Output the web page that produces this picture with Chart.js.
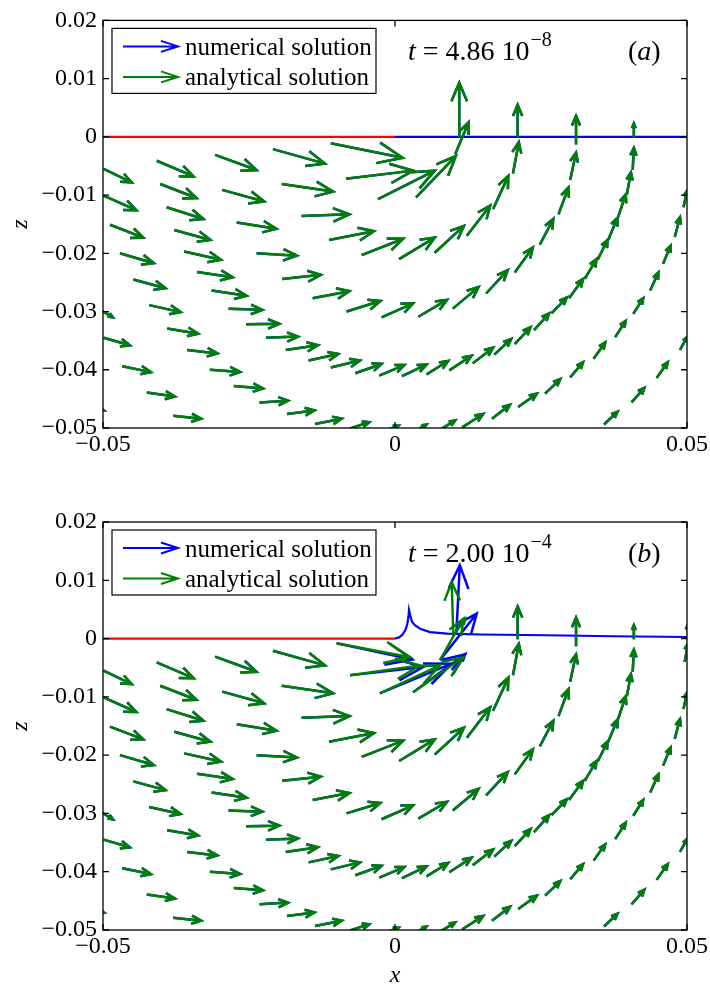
<!DOCTYPE html>
<html>
<head>
<meta charset="utf-8">
<script src="https://cdn.jsdelivr.net/npm/chart.js@4.4.0/dist/chart.umd.min.js"></script>
<style>
  body { margin: 0; background: #fff; }
  .panel { position: absolute; left: 0; width: 710px; height: 493px; }
</style>
</head>
<body>
<div class="panel" style="top:0"><canvas id="panelA" width="710" height="493"></canvas></div>
<div class="panel" style="top:493px"><canvas id="panelB" width="710" height="493"></canvas></div>
<script>
// ticks
var xTicks = [-0.05, 0, 0.05];
var xTickLabels = ['\u22120.05', '0', '0.05'];
var zTicks = [0.02, 0.01, 0, -0.01, -0.02, -0.03, -0.04, -0.05];
var zTickLabels = ['0.02', '0.01', '0', '\u22120.01', '\u22120.02', '\u22120.03', '\u22120.04', '\u22120.05'];

// z = 0 boundary: wall (x < 0) and free surface (x > 0)
var wallX = [-0.05, 0];
var wallZ = [0, 0];
var surfAX = [0, 0.05];
var surfAZ = [0, 0];
var surfBX = [0, 0.0007, 0.0013, 0.0018, 0.0021, 0.0023, 0.0024, 0.0026, 0.0029, 0.0034, 0.0043, 0.0060, 0.0089, 0.0146, 0.026, 0.0374, 0.05];
var surfBZ = [0, 0.0002, 0.0007, 0.0015, 0.0025, 0.0037, 0.0049, 0.0040, 0.0029, 0.0023, 0.0017, 0.0011, 0.00086, 0.0007, 0.00057, 0.0004, 0.00027];

// velocity arrows, one row per arrow: [x tail, z tail, x head, z head], in 1e-3 units
var ring1 = [
  [11.0, -0.1, 11.0, 9.3], [10.3, -3.0, 12.6, 2.5], [3.6, -10.4, 10.4, -3.3],
  [-2.9, -10.7, 6.8, -5.8], [-8.4, -7.2, 3.1, -5.8], [-11.0, -1.1, 1.3, -3.6]
];
var ring2 = [
  [21.0, -0.1, 21.0, 5.5], [20.2, -6.3, 21.2, -0.9], [16.8, -12.4, 19.4, -6.7],
  [12.3, -17.0, 16.3, -11.8], [6.8, -19.9, 11.8, -15.3], [0.7, -21.0, 6.8, -17.3],
  [-5.7, -20.3, 1.4, -17.5], [-11.3, -17.7, -3.6, -16.2], [-16.0, -13.6, -7.8, -13.3],
  [-19.4, -8.1, -10.6, -9.4], [-20.9, -2.1, -12.0, -4.6]
];
var ring3 = [
  [31.0, -1.3, 31.0, 3.6], [30.0, -7.4, 31.0, -2.7], [28.0, -13.3, 29.7, -8.7],
  [24.8, -18.5, 27.1, -14.1], [20.5, -23.3, 23.6, -19.0], [15.6, -26.9, 19.3, -22.9],
  [9.9, -29.5, 14.3, -25.8], [4.0, -30.9, 8.9, -28.0], [-2.3, -31.0, 3.1, -28.6],
  [-8.3, -30.0, -2.5, -28.2], [-14.1, -27.7, -7.8, -26.5], [-19.3, -24.4, -12.7, -23.7],
  [-23.7, -20.0, -16.8, -20.4], [-27.1, -14.7, -20.3, -15.8], [-29.6, -9.1, -22.4, -11.1],
  [-30.8, -3.1, -23.7, -5.7]
];
var ring4 = [
  [40.9, -0.1, 40.9, 2.3], [40.7, -5.7, 40.9, -1.9], [39.7, -9.9, 40.4, -6.1],
  [38.2, -13.8, 39.5, -9.9], [36.5, -17.7, 38.1, -13.9], [34.7, -21.1, 36.4, -17.7],
  [32.5, -24.4, 34.5, -21.0], [29.8, -27.7, 32.2, -24.4], [26.8, -30.3, 29.4, -27.6],
  [23.8, -33.2, 26.4, -30.3], [20.5, -35.6, 23.2, -32.7], [17.0, -37.4, 19.9, -34.7],
  [13.3, -38.9, 16.8, -36.2], [9.3, -40.1, 13.1, -37.6], [5.4, -40.8, 9.1, -38.5],
  [1.2, -41.1, 5.4, -39.1], [-2.7, -41.0, 1.6, -39.2], [-6.8, -40.6, -2.3, -39.0],
  [-11.0, -39.6, -6.0, -38.4], [-14.8, -38.4, -9.7, -37.3], [-18.7, -36.6, -13.2, -35.8],
  [-22.1, -34.5, -16.6, -34.3], [-25.5, -32.2, -19.8, -32.1], [-28.5, -29.5, -22.7, -29.7],
  [-31.4, -26.4, -25.4, -27.3], [-33.9, -23.2, -27.8, -24.1], [-36.1, -19.7, -29.8, -21.1],
  [-37.8, -16.0, -31.6, -17.7], [-39.1, -12.1, -32.8, -14.1], [-40.2, -8.1, -34.0, -10.5],
  [-40.8, -4.1, -34.5, -6.8]
];
var ring5 = [
  [49.4, -12.1, 50.0, -9.3], [47.9, -17.2, 48.8, -13.8], [45.9, -21.8, 47.2, -18.7],
  [43.7, -26.4, 45.1, -23.3], [40.8, -30.4, 42.5, -27.7], [37.7, -34.4, 39.5, -31.6],
  [34.0, -38.1, 36.0, -35.3], [30.0, -41.3, 32.2, -38.7], [25.7, -44.1, 28.3, -41.6],
  [21.1, -46.4, 24.3, -44.1], [16.6, -48.4, 19.7, -46.0], [11.5, -49.9, 15.1, -47.6],
  [7.7, -50.3, 10.3, -48.7], [3.3, -50.6, 5.4, -49.4], [-1.9, -50.6, 0.6, -49.6],
  [-7.8, -50.1, -4.4, -49.0], [-13.7, -49.3, -9.1, -48.4], [-18.5, -47.6, -13.8, -47.0],
  [-23.2, -45.6, -18.3, -45.3], [-27.6, -42.8, -22.6, -43.2], [-31.7, -40.0, -26.5, -40.4],
  [-35.6, -36.6, -30.4, -37.2], [-39.0, -32.9, -33.7, -33.8], [-42.1, -28.9, -36.7, -30.1],
  [-44.8, -24.5, -39.3, -26.0], [-47.1, -20.0, -41.3, -21.7], [-48.8, -15.1, -43.1, -17.3],
  [-49.9, -10.1, -44.3, -12.6], [-49.9, -5.5, -45.1, -7.8]
];
var ring6 = [
  [48.8, -36.6, 50.0, -34.4], [44.8, -41.4, 46.7, -38.7], [40.5, -45.6, 42.7, -43.1],
  [35.8, -49.4, 38.1, -47.2], [-38.0, -47.9, -33.2, -48.4], [-42.5, -43.9, -37.7, -44.6],
  [-46.7, -39.4, -41.8, -40.4], [-49.9, -34.5, -45.4, -35.8], [-50.5, -29.7, -48.3, -31.0],
  [-51.5, -46.5, -49.8, -47.0]
];

// panel (b): arrows near the edge of the wall, where the two solutions part
var tipAnalyticalB = [
  [10.0, 0.3, 9.7, 9.7], [10.3, 0.9, 12.0, 3.4], [7.7, -3.7, 11.7, 3.4],
  [3.1, -9.2, 11.7, -3.2], [-2.6, -9.4, 7.7, -4.6], [-7.7, -6.3, 4.3, -4.6],
  [-10.0, -0.8, 2.6, -3.2]
];
var tipNumericalB = [
  [10.5, 0.8, 11.1, 12.6], [7.7, -3.7, 14.0, 4.3], [9.7, -5.4, 12.0, -2.7],
  [3.1, -9.2, 12.0, -2.7], [-2.6, -9.4, 9.7, -4.3], [-7.7, -6.3, 4.8, -4.9],
  [-10.0, -0.8, 3.0, -3.6]
];
var edgeB = [[50.2, -0.4, 50.2, 2.6], [49.6, -4.0, 50.2, -0.8]];

var analyticalA = [].concat(ring1, ring2, ring3, ring4, ring5, ring6);
var numericalA = analyticalA;   // the two solutions coincide at this early time
var analyticalB = [].concat(tipAnalyticalB, ring2, ring3, ring4, edgeB, ring5, ring6);
var numericalB = [].concat(tipNumericalB, ring2, ring3, ring4, edgeB, ring5, ring6);

function toArrows(rows) {
  return rows.map(function (r) {
    return { x: r[0] * 1e-3, y: r[1] * 1e-3, x2: r[2] * 1e-3, y2: r[3] * 1e-3 };
  });
}
function toPoints(xs, zs) {
  return xs.map(function (x, i) { return { x: x, y: zs[i] }; });
}

var SERIF = '"Liberation Serif", serif';
var BLUE = 'rgb(0,0,255)', GREEN = 'rgb(0,128,0)', RED = 'rgb(255,0,0)';

// quiver style arrow: shaft plus two barbs
function drawArrow(ctx, x1, y1, x2, y2) {
  var dx = x2 - x1, dy = y2 - y1, a = 0.34, b = 0.42;
  ctx.beginPath();
  ctx.moveTo(x1, y1);
  ctx.lineTo(x2, y2);
  ctx.moveTo(x2 - a * (dx + b * dy), y2 - a * (dy - b * dx));
  ctx.lineTo(x2, y2);
  ctx.lineTo(x2 - a * (dx - b * dy), y2 - a * (dy + b * dx));
  ctx.stroke();
}

var quiverPlugin = {
  id: 'quiver',
  afterDatasetsDraw: function (chart) {
    var ctx = chart.ctx, xs = chart.scales.x, ys = chart.scales.y, area = chart.chartArea;
    ctx.save();
    ctx.beginPath();
    ctx.rect(area.left, area.top, area.right - area.left, area.bottom - area.top);
    ctx.clip();
    ctx.lineJoin = 'miter';
    chart.data.datasets.forEach(function (ds) {
      if (!ds.quiver) return;
      ctx.strokeStyle = ds.borderColor;
      ctx.lineWidth = ds.borderWidth;
      ds.data.forEach(function (p) {
        drawArrow(ctx, xs.getPixelForValue(p.x), ys.getPixelForValue(p.y),
                  xs.getPixelForValue(p.x2), ys.getPixelForValue(p.y2));
      });
    });
    ctx.restore();
  }
};

// box round the axes with inward tick marks
var framePlugin = {
  id: 'frame',
  afterDraw: function (chart) {
    var ctx = chart.ctx, a = chart.chartArea, xs = chart.scales.x, ys = chart.scales.y;
    ctx.save();
    ctx.strokeStyle = '#000';
    ctx.lineWidth = 1.3;
    ctx.strokeRect(a.left, a.top, a.right - a.left, a.bottom - a.top);
    ctx.beginPath();
    xs.ticks.forEach(function (t) {
      var px = xs.getPixelForValue(t.value);
      ctx.moveTo(px, a.bottom); ctx.lineTo(px, a.bottom - 6);
      ctx.moveTo(px, a.top); ctx.lineTo(px, a.top + 6);
    });
    ys.ticks.forEach(function (t) {
      var py = ys.getPixelForValue(t.value);
      ctx.moveTo(a.left, py); ctx.lineTo(a.left + 6, py);
      ctx.moveTo(a.right, py); ctx.lineTo(a.right - 6, py);
    });
    ctx.stroke();
    ctx.restore();
  }
};

// legend box, time stamp and panel letter
var notePlugin = {
  id: 'note',
  afterDraw: function (chart) {
    var o = chart.options.plugins.note, ctx = chart.ctx, a = chart.chartArea;
    ctx.save();
    // legend
    var bx = a.left + 9, by = a.top + 8;
    ctx.fillStyle = '#fff';
    ctx.fillRect(bx, by, 264, 65);
    ctx.strokeStyle = '#000';
    ctx.lineWidth = 1.2;
    ctx.strokeRect(bx, by, 264, 65);
    var entries = chart.data.datasets.filter(function (d) { return d.quiver; });
    entries.forEach(function (d, i) {
      var y = by + 18 + i * 30.5;
      ctx.strokeStyle = d.borderColor;
      ctx.lineWidth = 2;
      ctx.beginPath();
      ctx.moveTo(bx + 11, y); ctx.lineTo(bx + 66, y);
      ctx.moveTo(bx + 49, y - 5.5); ctx.lineTo(bx + 66, y); ctx.lineTo(bx + 49, y + 5.5);
      ctx.stroke();
      ctx.fillStyle = '#000';
      ctx.font = '25px ' + SERIF;
      ctx.textBaseline = 'alphabetic';
      ctx.fillText(d.label, bx + 73, y + 8.5);
    });
    // time stamp
    var tx = a.left + 305, ty = a.top + 40;
    ctx.fillStyle = '#000';
    ctx.font = 'italic 28px ' + SERIF;
    ctx.fillText('t', tx, ty);
    tx += ctx.measureText('t').width;
    ctx.font = '28px ' + SERIF;
    var main = ' = ' + o.time + ' 10';
    ctx.fillText(main, tx, ty);
    tx += ctx.measureText(main).width;
    ctx.font = '20px ' + SERIF;
    ctx.fillText(o.exponent, tx + 1, ty - 14);
    // panel letter
    var lx = a.left + 525;
    ctx.font = '28px ' + SERIF;
    ctx.fillText('(', lx, ty);
    lx += ctx.measureText('(').width;
    ctx.font = 'italic 28px ' + SERIF;
    ctx.fillText(o.letter, lx, ty);
    lx += ctx.measureText(o.letter).width;
    ctx.font = '28px ' + SERIF;
    ctx.fillText(')', lx, ty);
    ctx.restore();
  }
};

function makePanel(id, surfX, surfZ, numerical, analytical, note, padTop, xAxisHeight, showXTitle) {
  return new Chart(document.getElementById(id).getContext('2d'), {
    type: 'scatter',
    data: {
      datasets: [
        { type: 'line', label: 'wall', data: toPoints(wallX, wallZ), borderColor: RED, borderWidth: 2.2,
          pointRadius: 0, tension: 0, fill: false },
        { type: 'line', label: 'surface', data: toPoints(surfX, surfZ), borderColor: BLUE, borderWidth: 2.2,
          pointRadius: 0, tension: 0, fill: false },
        { label: 'numerical solution', quiver: true, data: toArrows(numerical), borderColor: BLUE,
          borderWidth: 2.5, pointRadius: 0, showLine: false },
        { label: 'analytical solution', quiver: true, data: toArrows(analytical), borderColor: GREEN,
          borderWidth: 2.5, pointRadius: 0, showLine: false }
      ]
    },
    options: {
      responsive: false,
      animation: false,
      events: [],
      layout: { padding: { top: padTop, right: 23, left: 0, bottom: 0 } },
      scales: {
        x: {
          type: 'linear', min: -0.05, max: 0.05,
          afterBuildTicks: function (s) { s.ticks = xTicks.map(function (v) { return { value: v }; }); },
          afterFit: function (s) { s.height = xAxisHeight; },
          ticks: { color: '#000', font: { family: SERIF, size: 24 }, padding: 2, maxRotation: 0,
                   callback: function (v, i) { return xTickLabels[i]; } },
          grid: { drawOnChartArea: false, drawTicks: false },
          border: { display: false },
          title: { display: showXTitle, text: 'x', color: '#000', padding: { top: 0, bottom: -4 },
                   font: { family: SERIF, size: 24, style: 'italic' } }
        },
        y: {
          type: 'linear', min: -0.05, max: 0.02,
          afterBuildTicks: function (s) { s.ticks = zTicks.map(function (v) { return { value: v }; }); },
          afterFit: function (s) { s.width = 103; },
          ticks: { color: '#000', font: { family: SERIF, size: 24 }, padding: 6,
                   callback: function (v, i) { return zTickLabels[i]; } },
          grid: { drawOnChartArea: false, drawTicks: false },
          border: { display: false },
          title: { display: true, text: 'z', color: '#000', padding: { top: 6, bottom: 0 },
                   font: { family: SERIF, size: 24, style: 'italic' } }
        }
      },
      plugins: {
        legend: { display: false },
        tooltip: { enabled: false },
        note: note
      }
    },
    plugins: [quiverPlugin, framePlugin, notePlugin]
  });
}

makePanel('panelA', surfAX, surfAZ, numericalA, analyticalA,
          { time: '4.86', exponent: '\u22128', letter: 'a' }, 20, 65, false);
makePanel('panelB', surfBX, surfBZ, numericalB, analyticalB,
          { time: '2.00', exponent: '\u22124', letter: 'b' }, 29, 56, true);
</script>
</body>
</html>
